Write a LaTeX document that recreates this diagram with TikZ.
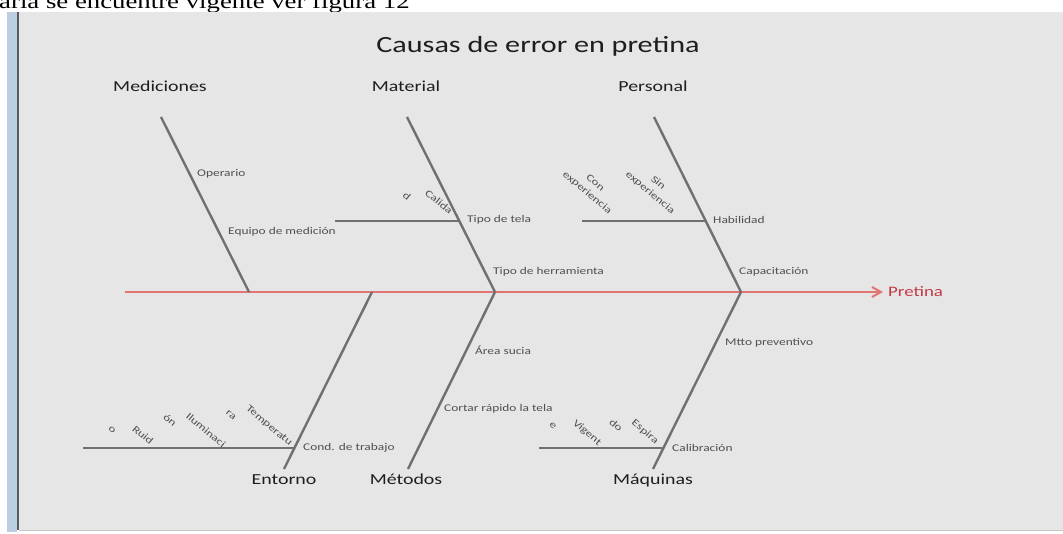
\documentclass[tikz,border=0pt]{standalone}
\usepackage{fontspec}
\setmainfont{Carlito}[FakeStretch=1.3]
\newfontfamily\prevfont{Liberation Serif}[FakeStretch=1.3]
\usetikzlibrary{arrows.meta}

\definecolor{panelgray}{RGB}{230,230,230}
\definecolor{barblue}{RGB}{188,206,226}
\definecolor{bardark}{RGB}{90,90,96}
\definecolor{panelline}{RGB}{200,200,200}
\definecolor{bonegray}{RGB}{112,112,112}
\definecolor{spinered}{RGB}{226,116,116}
\definecolor{pretinared}{RGB}{196,58,70}
\definecolor{labelblack}{RGB}{30,30,30}
\definecolor{causegray}{RGB}{80,80,80}

\begin{document}
\begin{tikzpicture}[x=1pt, y=-1pt,
    bone/.style={draw=bonegray, line width=2.4pt},
    twig/.style={draw=bonegray, line width=2pt},
    catlabel/.style={anchor=base, font=\fontsize{15.3}{18}\selectfont, text=labelblack},
    cause/.style={anchor=west, inner sep=0pt, font=\fontsize{10.3}{12}\selectfont, text=causegray},
    slanted/.style={anchor=center, inner sep=0pt, rotate=-40, align=center,
        font=\fontsize{10}{12.5}\selectfont, text=causegray}]
    % Page, preceding text line and panel
    \useasboundingbox (0,0) rectangle (1063,534);
    \fill[white] (0,0) rectangle (1063,534);
    \node[anchor=base west, inner sep=0pt, font=\prevfont\fontsize{20.6}{24}\selectfont] (prevline) at (-1,8.5) {aria se encuentre vigente ver figura 12};
    \fill[panelgray] (19,12) rectangle (1063,530);
    \fill[barblue] (7,12) rectangle (16.5,532);
    \fill[bardark] (16.5,12) rectangle (19,530);
    \draw[panelline, line width=1.2pt] (19,530.6) -- (1063,530.6);

    % Title
    \node[anchor=base, font=\fontsize{23.2}{27}\selectfont, text=labelblack] (title) at (538,53) {Causas de error en pretina};

    % Spine and effect
    \coordinate (tail) at (125,292);
    \node[anchor=west, inner sep=0pt, font=\fontsize{14.5}{17}\selectfont, text=pretinared] (pretina) at (888,292) {Pretina};
    \draw[spinered, line width=2pt, -{Straight Barb[length=9pt, width=10pt]}] (tail) -- ([xshift=-5pt]pretina.west);

    % Category labels
    \node[catlabel] (mediciones) at (160,92) {Mediciones};
    \node[catlabel] (material) at (406,92) {Material};
    \node[catlabel] (personal) at (653,92) {Personal};
    \node[catlabel] (entorno) at (284,484) {Entorno};
    \node[catlabel] (metodos) at (406,484) {Métodos};
    \node[catlabel] (maquinas) at (653,484) {Máquinas};

    % Bone ends
    \coordinate (medTop) at (161,117);  \coordinate (medFoot) at (249,292);
    \coordinate (matTop) at (407,117);  \coordinate (matFoot) at (495,292);
    \coordinate (perTop) at (654,117);  \coordinate (perFoot) at (741,292);
    \coordinate (entFoot) at (372,292); \coordinate (entEnd) at (284,469);
    \coordinate (metFoot) at (495,292); \coordinate (metEnd) at (408,469);
    \coordinate (maqFoot) at (741,292); \coordinate (maqEnd) at (653,469);

    % Bones
    \draw[bone] (medTop) -- (medFoot);
    \draw[bone] (matTop) -- (matFoot);
    \draw[bone] (perTop) -- (perFoot);
    \draw[bone] (entFoot) -- (entEnd);
    \draw[bone] (metFoot) -- (metEnd);
    \draw[bone] (maqFoot) -- (maqEnd);

    % Sub-bones
    \coordinate (telaStart) at (335,221);  \coordinate (telaEnd) at (459,221);
    \coordinate (habStart) at (582,221);   \coordinate (habEnd) at (706,221);
    \coordinate (condStart) at (83,448);   \coordinate (condEnd) at (294,448);
    \coordinate (calStart) at (539,448);   \coordinate (calEnd) at (663,448);
    \draw[twig] (telaStart) -- (telaEnd);
    \draw[twig] (habStart) -- (habEnd);
    \draw[twig] (condStart) -- (condEnd);
    \draw[twig] (calStart) -- (calEnd);

    % Causes above the spine
    \node[cause] (operario) at (197,174) {Operario};
    \node[cause] (equipo) at (228,232) {Equipo de medición};
    \node[cause] (tipotela) at (467,220) {Tipo de tela};
    \node[cause] (herramienta) at (493,272) {Tipo de herramienta};
    \node[cause] (habilidad) at (713,220) {Habilidad};
    \node[cause] (capacitacion) at (739,272) {Capacitación};

    % Causes below the spine
    \node[cause] (areasucia) at (475,350) {Área sucia};
    \node[cause] (cortar) at (444,409) {Cortar rápido la tela};
    \node[cause] (mtto) at (725,343) {Mtto preventivo};
    \node[cause] (condtrabajo) at (303,448) {Cond. de trabajo};
    \node[cause] (calibracion) at (672,448) {Calibración};

    % Slanted sub-causes
    \node[slanted] (calidadA) at (407,196) {d};
    \node[slanted] (calidadB) at (439,202) {Calida};
    \node[slanted] (conexp) at (591,188) {Con\\experiencia};
    \node[slanted] (sinexp) at (654,188) {Sin\\experiencia};
    \node[slanted] (ruidoA) at (112,430) {o};
    \node[slanted] (ruidoB) at (143,435) {Ruid};
    \node[slanted] (ilumA) at (170,420) {ón};
    \node[slanted] (ilumB) at (206,430) {Iluminaci};
    \node[slanted] (tempA) at (231,415) {ra};
    \node[slanted] (tempB) at (269,426) {Temperatu};
    \node[slanted] (vigenteA) at (553,426) {e};
    \node[slanted] (vigenteB) at (587,433) {Vigent};
    \node[slanted] (espiraA) at (616,425) {do};
    \node[slanted] (espiraB) at (645,432) {Espira};
\end{tikzpicture}
\end{document}
